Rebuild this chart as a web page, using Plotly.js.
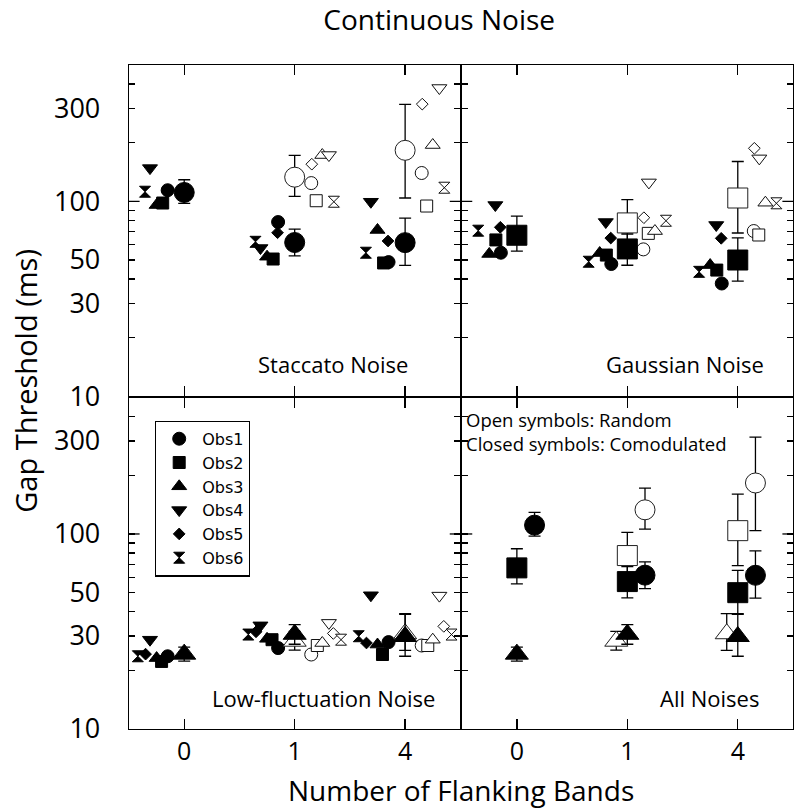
<!DOCTYPE html>
<html>
<head>
<meta charset="utf-8">
<script src="https://cdn.plot.ly/plotly-3.0.1.min.js"></script>
<style>html,body{margin:0;padding:0;background:#fff;}#chart{width:800px;height:811px;}</style>
</head>
<body>
<div id="chart"></div>
<script>
// ---------------- DATA ----------------
const categories = ['0', '1', '4'];            // number of flanking bands
const observers = ['Obs1', 'Obs2', 'Obs3', 'Obs4', 'Obs5', 'Obs6'];

// Individual thresholds (ms); rows = Obs1..Obs6, columns = 0, 1, 4 flanking bands
const staccatoComodulated = [
  [114, 78.3, 48.8], [98, 50.6, 48.3], [95.7, 52, 71.3],
  [148, 57.6, 99.5], [112, 69, 62.6], [112, 62, 54.5]
];
const staccatoRandom = [
  [null, 124, 139.7], [null, 100.7, 94.6], [null, 172.7, 194.4],
  [null, 172.7, 381], [null, 155, 315], [null, 99.5, 117.4]
];
const gaussianComodulated = [
  [54.5, 47.7, 37.9], [63.4, 53, 44.4], [53.7, 54.3, 47.1],
  [95.7, 78.3, 75.6], [73.6, 64.8, 64.6], [70.7, 49, 43.5]
];
const gaussianRandom = [
  [null, 56.7, 70.4], [null, 68.5, 67.2], [null, 70.4, 98.4],
  [null, 125, 166], [null, 82.4, 187], [null, 79.5, 97.7]
];
const lowflucComodulated = [
  [23.6, 26, 27.9], [22.2, 28.7, 24.1], [23.1, 29, 27.1],
  [28.7, 34, 48.5], [24.2, 31.5, 27.6], [23.6, 30.5, 29.9]
];
const lowflucRandom = [
  [null, 24.1, 26.8], [null, 26.8, 26.8], [null, 27.6, 28.7],
  [null, 35, 48.3], [null, 30.9, 33.6], [null, 28.7, 30.5]
];

// Means with upper / lower error-bar ends
const staccatoComodMean = [111, 61.5, 61.4];
const staccatoComodHi   = [129, 72, 82];
const staccatoComodLo   = [97.5, 52.5, 46.9];
const staccatoRandMean  = [null, 133, 182.6];
const staccatoRandHi    = [null, 172, 314];
const staccatoRandLo    = [null, 106, 104];

const gaussianComodMean = [67, 57, 50];
const gaussianComodHi   = [84, 68, 65];
const gaussianComodLo   = [55.5, 47, 39];
const gaussianRandMean  = [null, 77.5, 104];
const gaussianRandHi    = [null, 102, 160];
const gaussianRandLo    = [null, 59, 68.8];

const lowflucComodMean  = [24.2, 30.6, 29.8];
const lowflucComodHi    = [26.3, 34.3, 38.7];
const lowflucComodLo    = [22.3, 27.2, 23.6];
const lowflucRandMean   = [null, 28.2, 30.8];
const lowflucRandHi     = [null, 31.7, 39];
const lowflucRandLo     = [null, 25.4, 25.3];

// ---------------- STYLE / LAYOUT CONFIG ----------------
const FONT = 'Open Sans, Noto Sans, sans-serif';
const LEGFONT = 'DejaVu Sans, sans-serif';
const symbols = ['circle', 'square', 'triangle-up', 'triangle-down', 'diamond', 'hourglass'];
const smallSizes = [13, 12, 13, 13, 9, 11];
const bigSize = 20;
const LW = 1.3;
// horizontal displacement of each observer from the category tick (category units)
const offsetsStaccato = [0.15, 0.195, 0.25, 0.31, 0.155, 0.355];
const offsetsGaussian = [0.145, 0.19, 0.25, 0.195, 0.15, 0.35];
const offsetsLowfluc  = [0.15, 0.205, 0.25, 0.31, 0.35, 0.42];

const traces = [];

function obsTraces(xa, ya, closedVals, openVals, offs, legend) {
  observers.forEach((name, i) => {
    traces.push({
      type: 'scatter', mode: 'markers', xaxis: xa, yaxis: ya,
      name: name, legendgroup: name, showlegend: legend,
      x: categories.map((c, k) => k - offs[i]), y: closedVals[i],
      marker: {symbol: symbols[i], size: smallSizes[i], color: 'black', line: {color: 'black', width: 1}},
      hoverinfo: 'skip'
    });
  });
  observers.forEach((name, i) => {
    traces.push({
      type: 'scatter', mode: 'markers', xaxis: xa, yaxis: ya,
      name: name + ' random', showlegend: false,
      x: categories.map((c, k) => k + offs[i]), y: openVals[i],
      marker: {symbol: symbols[i], size: smallSizes[i], color: 'white', line: {color: '#111', width: 1}},
      hoverinfo: 'skip'
    });
  });
}

function meanTrace(xa, ya, mean, hi, lo, sym, filled, shift) {
  traces.push({
    type: 'scatter', mode: 'markers', xaxis: xa, yaxis: ya, showlegend: false,
    x: categories.map((c, k) => k + shift), y: mean,
    error_y: {
      type: 'data', symmetric: false,
      array: mean.map((m, k) => m == null ? null : hi[k] - m),
      arrayminus: mean.map((m, k) => m == null ? null : m - lo[k]),
      color: 'black', thickness: 1.3, width: 6
    },
    marker: {symbol: sym, size: bigSize, color: filled ? 'black' : 'white', line: {color: filled ? 'black' : '#222', width: 1}},
    hoverinfo: 'skip'
  });
}

// Panel A: Staccato
obsTraces('x', 'y', staccatoComodulated, staccatoRandom, offsetsStaccato, true);
meanTrace('x', 'y', staccatoRandMean, staccatoRandHi, staccatoRandLo, 'circle', false, 0);
meanTrace('x', 'y', staccatoComodMean, staccatoComodHi, staccatoComodLo, 'circle', true, 0);
// Panel B: Gaussian
obsTraces('x2', 'y2', gaussianComodulated, gaussianRandom, offsetsGaussian, false);
meanTrace('x2', 'y2', gaussianRandMean, gaussianRandHi, gaussianRandLo, 'square', false, 0);
meanTrace('x2', 'y2', gaussianComodMean, gaussianComodHi, gaussianComodLo, 'square', true, 0);
// Panel C: Low-fluctuation
obsTraces('x3', 'y3', lowflucComodulated, lowflucRandom, offsetsLowfluc, false);
meanTrace('x3', 'y3', lowflucRandMean, lowflucRandHi, lowflucRandLo, 'triangle-up', false, 0);
meanTrace('x3', 'y3', lowflucComodMean, lowflucComodHi, lowflucComodLo, 'triangle-up', true, 0);
// Panel D: All noises
meanTrace('x4', 'y4', lowflucRandMean, lowflucRandHi, lowflucRandLo, 'triangle-up', false, -0.1);
meanTrace('x4', 'y4', lowflucComodMean, lowflucComodHi, lowflucComodLo, 'triangle-up', true, 0);
meanTrace('x4', 'y4', gaussianRandMean, gaussianRandHi, gaussianRandLo, 'square', false, 0);
meanTrace('x4', 'y4', gaussianComodMean, gaussianComodHi, gaussianComodLo, 'square', true, 0);
meanTrace('x4', 'y4', staccatoRandMean, staccatoRandHi, staccatoRandLo, 'circle', false, 0.16);
meanTrace('x4', 'y4', staccatoComodMean, staccatoComodHi, staccatoComodLo, 'circle', true, 0.16);

// ---------------- AXES ----------------
const W = 664, H = 664;                 // plot-area size in px
const gx = (LW / 2) / W, gy = (LW / 2) / H; // half-gap so the shared border lines coincide
const xLeft = [0, 0.5 - gx], xRight = [0.5 + gx, 1];
const yBottom = [0, 0.5 - gy], yTop = [0.5 + gy, 1];

function xAxis(domain, anchor, labels) {
  return {
    domain: domain, anchor: anchor, range: [-0.5, 2.5],
    tickmode: 'array', tickvals: categories.map((c, k) => k), ticktext: categories,
    ticks: 'inside', ticklen: 10, tickwidth: LW, tickcolor: 'black',
    showline: true, linecolor: 'black', linewidth: LW, mirror: 'ticks',
    showgrid: false, zeroline: false, showticklabels: labels,
    tickfont: {family: FONT, size: 25, color: 'black'}, ticklabelstandoff: 0
  };
}
function yAxis(domain, anchor, labels) {
  return {
    domain: domain, anchor: anchor, type: 'log', range: [1, Math.log10(500)],
    tickmode: 'array', tickvals: [10, 30, 50, 100, 300], ticktext: ['10', '30', '50', '100', '300'],
    ticks: 'inside', ticklen: 6, tickwidth: LW, tickcolor: 'black',
    minor: {tickmode: 'array', tickvals: [20, 40, 60, 70, 80, 90, 200, 400], ticks: 'inside', ticklen: 6, tickwidth: LW, tickcolor: 'black', showgrid: false},
    showline: true, linecolor: 'black', linewidth: LW, mirror: 'ticks',
    showgrid: false, zeroline: false, showticklabels: labels,
    tickfont: {family: FONT, size: 27, color: 'black'}, ticklabelstandoff: 22
  };
}

const shapes = [];
[['x', 'y'], ['x2', 'y2'], ['x3', 'y3'], ['x4', 'y4']].forEach(([xa, ya]) => {
  shapes.push({type: 'line', xref: xa + ' domain', yref: ya, x0: 0, x1: 0.032, y0: 100, y1: 100, line: {color: 'black', width: LW}});
  shapes.push({type: 'line', xref: xa + ' domain', yref: ya, x0: 0.968, x1: 1, y0: 100, y1: 100, line: {color: 'black', width: LW}});
});

const annFont = (s) => ({family: FONT, size: s, color: 'black'});
const annotations = [
  {xref: 'x domain', yref: 'y domain', x: 0.848, y: 0.097, xanchor: 'right', yanchor: 'middle', text: 'Staccato Noise', showarrow: false, font: annFont(22)},
  {xref: 'x2 domain', yref: 'y2 domain', x: 0.918, y: 0.097, xanchor: 'right', yanchor: 'middle', text: 'Gaussian Noise', showarrow: false, font: annFont(22)},
  {xref: 'x3 domain', yref: 'y3 domain', x: 0.93, y: 0.093, xanchor: 'right', yanchor: 'middle', text: 'Low-fluctuation Noise', showarrow: false, font: annFont(22)},
  {xref: 'x4 domain', yref: 'y4 domain', x: 0.903, y: 0.093, xanchor: 'right', yanchor: 'middle', text: 'All Noises', showarrow: false, font: annFont(22)},
  {xref: 'x4 domain', yref: 'y4 domain', x: 0.006, y: 0.934, xanchor: 'left', yanchor: 'middle', text: 'Open symbols: Random', showarrow: false, font: annFont(18.5)},
  {xref: 'x4 domain', yref: 'y4 domain', x: 0.006, y: 0.862, xanchor: 'left', yanchor: 'middle', text: 'Closed symbols: Comodulated', showarrow: false, font: annFont(18.5)},
  {xref: 'paper', yref: 'paper', x: 0.5, y: -0.092, xanchor: 'center', yanchor: 'middle', text: 'Number of Flanking Bands', showarrow: false, font: annFont(28)},
  {xref: 'paper', yref: 'paper', x: -0.157, y: 0.524, xanchor: 'center', yanchor: 'middle', textangle: -90, text: 'Gap Threshold (ms)', showarrow: false, font: annFont(29)}
];

const layout = {
  width: 800, height: 811,
  margin: {l: 129, r: 7, t: 65, b: 82},
  paper_bgcolor: 'white', plot_bgcolor: 'white',
  font: {family: FONT, color: 'black'},
  title: {text: 'Continuous Noise', font: {family: FONT, size: 28, color: 'black'}, x: 0.549, xanchor: 'center', xref: 'container', y: 0.975, yanchor: 'middle', yref: 'container'},
  showlegend: true,
  legend: {
    x: 0.039, y: 0.4646, xanchor: 'left', yanchor: 'top', xref: 'paper', yref: 'paper',
    bgcolor: 'white', bordercolor: 'black', borderwidth: LW,
    font: {family: LEGFONT, size: 16, color: 'black'}, itemwidth: 36, tracegroupgap: 0
  },
  xaxis: xAxis(xLeft, 'y', false),
  yaxis: yAxis(yTop, 'x', true),
  xaxis2: xAxis(xRight, 'y2', false),
  yaxis2: yAxis(yTop, 'x2', false),
  xaxis3: xAxis(xLeft, 'y3', true),
  yaxis3: yAxis(yBottom, 'x3', true),
  xaxis4: xAxis(xRight, 'y4', true),
  yaxis4: yAxis(yBottom, 'x4', false),
  shapes: shapes,
  annotations: annotations
};

Plotly.newPlot('chart', traces, layout, {displayModeBar: false, staticPlot: true});
</script>
</body>
</html>
